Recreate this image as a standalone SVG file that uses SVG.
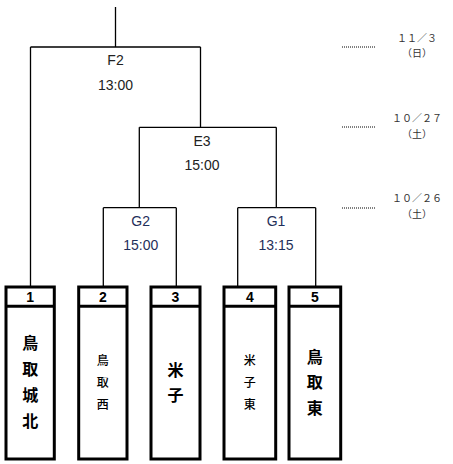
<svg xmlns="http://www.w3.org/2000/svg" width="453" height="464" viewBox="0 0 453 464">
<style>
.ln{fill:none;stroke:#000;stroke-width:1.3}
.dot{fill:none;stroke:#000;stroke-width:1;stroke-dasharray:1 1}
.box{fill:#fff;stroke:#000;stroke-width:3}
.lbl{font-family:"Liberation Sans",Arial,sans-serif;font-size:14px;text-anchor:middle;fill:#222}
.lblb{font-family:"Liberation Sans",Arial,sans-serif;font-size:14px;text-anchor:middle;fill:#1f2f5a}
.date{font-family:"Noto Sans CJK JP",sans-serif;font-size:10px;text-anchor:middle;fill:#333}
.num{font-family:"Liberation Sans",Arial,sans-serif;font-size:14px;font-weight:bold;text-anchor:middle;fill:#000}
.tb{font-family:"Noto Sans CJK JP",sans-serif;font-size:16px;font-weight:bold;text-anchor:middle;fill:#000}
.ts{font-family:"Noto Sans CJK JP",sans-serif;font-size:12px;font-weight:500;text-anchor:middle;fill:#000}
</style>
<rect width="453" height="464" fill="#fff"/>
<g id="connectors">
<path class="ln" d="M115.5 7V47M30.5 47H200.5M30.5 47V287M200.5 47V127.3"/>
<path class="ln" d="M139.3 127.3H276.3M139.3 127.3V207.7M276.3 127.3V207.7"/>
<path class="ln" d="M103.3 207.7H176.3M103.3 207.7V287M176.3 207.7V287"/>
<path class="ln" d="M237.7 207.7H315.7M237.7 207.7V287M315.7 207.7V287"/>
<path class="dot" d="M342 47H375M342 127H375M342 208H375"/>
</g>
<g id="match-F2">
<text class="lbl" x="115.5" y="65">F2</text>
<text class="lbl" x="115.5" y="90">13:00</text>
</g>
<g id="match-E3">
<text class="lbl" x="202" y="146">E3</text>
<text class="lbl" x="202" y="170">15:00</text>
</g>
<g id="match-G2">
<text class="lblb" x="140.7" y="226">G2</text>
<text class="lblb" x="140.7" y="250">15:00</text>
</g>
<g id="match-G1">
<text class="lblb" x="276" y="226">G1</text>
<text class="lblb" x="276" y="250">13:15</text>
</g>
<g id="date-1">
<text class="date" x="417" y="42">１１／３</text>
<text class="date" x="417" y="57">（日）</text>
</g>
<g id="date-2">
<text class="date" x="417" y="122">１０／２７</text>
<text class="date" x="417" y="138">（土）</text>
</g>
<g id="date-3">
<text class="date" x="417" y="202">１０／２６</text>
<text class="date" x="417" y="218">（土）</text>
</g>
<g id="team-1">
<rect class="box" x="6" y="287" width="48.3" height="172"/>
<line x1="6" y1="306.3" x2="54.3" y2="306.3" stroke="#000" stroke-width="3"/>
<text class="num" x="30.2" y="302">1</text>
<text class="tb" x="30.2" y="349">鳥</text>
<text class="tb" x="30.2" y="375">取</text>
<text class="tb" x="30.2" y="401">城</text>
<text class="tb" x="30.2" y="427">北</text>
</g>
<g id="team-2">
<rect class="box" x="78.7" y="287" width="48.3" height="172"/>
<line x1="78.7" y1="306.3" x2="127" y2="306.3" stroke="#000" stroke-width="3"/>
<text class="num" x="102.8" y="302">2</text>
<text class="ts" x="102.8" y="364.5">鳥</text>
<text class="ts" x="102.8" y="386.5">取</text>
<text class="ts" x="102.8" y="409">西</text>
</g>
<g id="team-3">
<rect class="box" x="151" y="287" width="49" height="172"/>
<line x1="151" y1="306.3" x2="200" y2="306.3" stroke="#000" stroke-width="3"/>
<text class="num" x="175.5" y="302">3</text>
<text class="tb" x="175.5" y="375.5">米</text>
<text class="tb" x="175.5" y="400.5">子</text>
</g>
<g id="team-4">
<rect class="box" x="224" y="287" width="51.7" height="172"/>
<line x1="224" y1="306.3" x2="275.7" y2="306.3" stroke="#000" stroke-width="3"/>
<text class="num" x="249.8" y="302">4</text>
<text class="ts" x="249.8" y="364.5">米</text>
<text class="ts" x="249.8" y="386.5">子</text>
<text class="ts" x="249.8" y="409">東</text>
</g>
<g id="team-5">
<rect class="box" x="289" y="287" width="51.7" height="172"/>
<line x1="289" y1="306.3" x2="340.7" y2="306.3" stroke="#000" stroke-width="3"/>
<text class="num" x="314.8" y="302">5</text>
<text class="tb" x="314.8" y="363">鳥</text>
<text class="tb" x="314.8" y="388">取</text>
<text class="tb" x="314.8" y="414">東</text>
</g>
</svg>
